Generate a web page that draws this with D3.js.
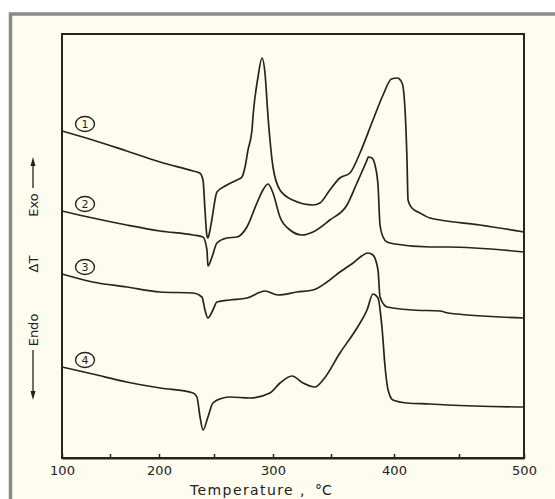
<!DOCTYPE html>
<html><head><meta charset="utf-8">
<script src="https://cdn.jsdelivr.net/npm/d3@7"></script>
<style>body{margin:0;background:#fff;}svg{display:block;}</style>
</head><body><svg id="c" width="555" height="499"></svg>
<script>
// Temperature axis (°C)
const tempTicks = [100,150,200,250,300,350,400,450,500];
const tempLabels = [100,200,300,400,500];
const curveLabels = ["1","2","3","4"];
// ΔT traces, arbitrary units: [temperature °C, ΔT]
const curve1 = [[100,327],[132,318],[167,307],[201,296],[231,287],[237,285],[240,278],[241.8,248],[243.6,222],[244.5,220],[246,226],[248,238],[252.5,266],[261,273],[269.5,278],[273.7,281],[276.3,291],[278.8,308],[282.2,328],[283,341],[287.3,381],[290.7,400],[293.2,385],[295.8,341],[300,291],[306,268],[317,258],[334.5,253],[340.5,255],[349,268],[357,280],[365,285],[373,305],[383.3,338],[391.3,363],[398,379],[402.5,380],[406.2,375],[408.5,348],[410,298],[410.8,258],[413.8,250],[420,245],[427.7,240],[435.4,238],[466,233],[500,226]];
const curve2 = [[100,247],[132,240],[167,233],[201,227],[231,223],[240,221],[243.6,208],[244.5,192],[248.2,201],[252.5,215],[261,220],[269.5,221],[277.9,231],[286.4,255],[291.5,268],[295.8,274],[300,265],[306,241],[314.7,228],[325,223],[334.5,226],[349,238],[362.7,253],[370.6,275],[378.6,298],[379.6,301],[382.5,300],[384.9,293],[387.3,273],[388.9,233],[391.3,221],[394.5,216],[400.8,214],[427.7,211],[441.5,211],[500,206]];
const curve3 = [[100,184],[132,176],[167,171],[201,166],[231,165],[239,161],[241.8,148],[244.5,140],[249,148],[252.5,156],[263.5,158],[278,160],[293.2,167],[304.3,163],[320.7,166],[334.5,168],[346.6,176],[357.1,186],[367.5,195],[379.4,205],[383.3,203],[387.3,188],[388.9,161],[394.5,151],[414.6,148],[435.4,147],[441.5,145],[500,140]];
const curve4 = [[100,91],[132,84],[167,76],[201,70],[231,65],[234.5,61],[237.3,41],[240,28],[244.5,41],[249,55],[257.6,60],[263.5,61],[280.5,60],[297.4,65],[306,75],[316.4,82],[325.9,75],[336.2,71],[343.1,78],[357.1,105],[370.6,130],[378.6,148],[383.3,164],[387.3,160],[390.5,130],[393,90],[395.3,68],[399.2,58],[410,55],[427.7,54],[441.5,53],[500,51]];
const curves = [curve1, curve2, curve3, curve4];

const svg = d3.select("#c");
const font = "'DejaVu Sans', Verdana, sans-serif";
// page background and scan frame
svg.append("rect").attr("x",10).attr("y",14).attr("width",545).attr("height",485).attr("fill","#fdfcef");
svg.append("path").attr("d","M10.5,499 V14 H555").attr("fill","none").attr("stroke","#8a8a8a").attr("stroke-width",3.5);

const x = d3.scaleLinear().domain(tempTicks).range([62,110,159,214,273,331,394,459,524]);
const y = d3.scaleLinear().domain([0,424]).range([458,34]);
const ink = "#28231f";

// frame box
svg.append("rect").attr("x",x(100)).attr("y",y(424)).attr("width",x(500)-x(100)).attr("height",y(0)-y(424))
  .attr("fill","none").attr("stroke",ink).attr("stroke-width",2);

const axis = d3.axisBottom(x).tickValues(tempTicks).tickSizeInner(-4).tickSizeOuter(0)
  .tickFormat(d => tempLabels.includes(d) ? d : "");
const gx = svg.append("g").attr("transform",`translate(0,${y(0)})`).call(axis);
gx.select(".domain").attr("stroke",ink).attr("stroke-width",2);
gx.selectAll(".tick line").attr("stroke",ink).attr("stroke-width",1.5);
gx.selectAll(".tick text").attr("y",8).attr("fill","#222").attr("font-family",font).attr("font-size",13);

const title = svg.append("text").attr("y",495).attr("font-family",font).attr("font-size",14).attr("fill","#222");
title.append("tspan").attr("x",190).attr("letter-spacing",1.4).text("Temperature");
title.append("tspan").attr("x",300).text(",");
title.append("tspan").attr("x",315).text("°C");

const line = d3.line().x(d=>x(d[0])).y(d=>y(d[1])).curve(d3.curveMonotoneX);
svg.selectAll("path.trace").data(curves).join("path").attr("class","trace")
  .attr("d",line).attr("fill","none").attr("stroke",ink).attr("stroke-width",1.7).attr("stroke-linejoin","round");

// circled curve numbers
const lab = svg.selectAll("g.lab").data(curves).join("g").attr("class","lab")
  .attr("transform",d=>`translate(85,${y(d[0][1])-7})`);
lab.append("ellipse").attr("rx",9.5).attr("ry",7.5).attr("fill","none").attr("stroke",ink).attr("stroke-width",1.4);
lab.append("text").attr("text-anchor","middle").attr("dy","0.36em").attr("font-family",font)
  .attr("font-size",11).attr("fill",ink).text((d,i)=>curveLabels[i]);

// y-axis annotations
const ylab = svg.append("g").attr("font-family",font).attr("font-size",13).attr("fill","#222");
ylab.append("text").attr("transform","translate(33,205) rotate(-90)").attr("text-anchor","middle").attr("dy","0.35em").text("Exo");
ylab.append("text").attr("transform","translate(33,264) rotate(-90)").attr("text-anchor","middle").attr("dy","0.35em").text("ΔT");
ylab.append("text").attr("transform","translate(33,330) rotate(-90)").attr("text-anchor","middle").attr("dy","0.35em").text("Endo");
svg.append("line").attr("x1",33).attr("x2",33).attr("y1",188).attr("y2",164).attr("stroke","#222").attr("stroke-width",1.3);
svg.append("path").attr("d","M33,157 L30.5,166 L35.5,166 Z").attr("fill","#222");
svg.append("line").attr("x1",33).attr("x2",33).attr("y1",350).attr("y2",393).attr("stroke","#222").attr("stroke-width",1.3);
svg.append("path").attr("d","M33,400 L30.5,391 L35.5,391 Z").attr("fill","#222");
</script></body></html>
